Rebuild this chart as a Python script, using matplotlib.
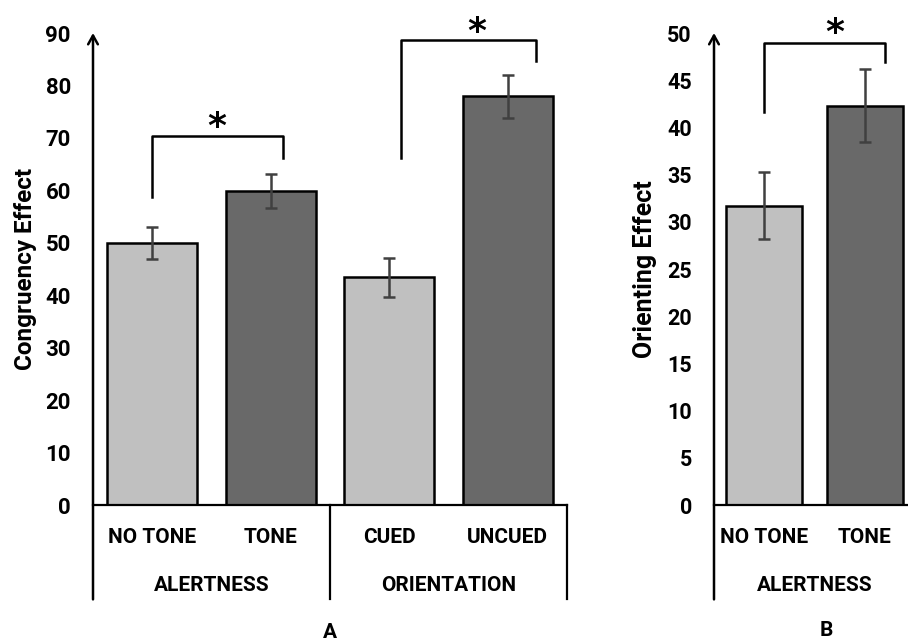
import matplotlib.pyplot as plt
from matplotlib.transforms import blended_transform_factory

# panel A data
a_labels = ["NO TONE", "TONE", "CUED", "UNCUED"]
a_groups = ["ALERTNESS", "ORIENTATION"]
a_means = [50.0, 59.8, 43.4, 77.9]
a_errors = [3.1, 3.25, 3.7, 4.1]
a_yticks = list(range(0, 91, 10))

# panel B data
b_labels = ["NO TONE", "TONE"]
b_group = "ALERTNESS"
b_means = [31.7, 42.3]
b_errors = [3.55, 3.85]
b_yticks = list(range(0, 51, 5))

# significance brackets: (x_left, x_right, y_left_end, y_top, y_right_end)
a_brackets = [(0.0, 1.1, 58.8, 70.4, 66.2), (2.1, 3.24, 66.2, 88.7, 84.7)]
a_stars = [(0.54, 72.0), (2.74, 90.2)]
b_brackets = [(0.0, 1.2, 41.6, 48.9, 46.9)]
b_stars = [(0.70, 50.0)]

LIGHT = "#c0c0c0"
DARK = "#696969"
W, H = 908, 642
CAL = ["Roboto", "DejaVu Sans"]

fig = plt.figure(figsize=(W / 100, H / 100), dpi=100)


def draw_panel(ax, labels, means, errors, yticks, ymax, xlim, tick_size, label_size):
    colors = [LIGHT, DARK] * (len(labels) // 2)
    x = list(range(len(labels)))
    ax.bar(x, means, width=0.76, color=colors, edgecolor="black", linewidth=1.8, zorder=2)
    ax.errorbar(x, means, yerr=errors, fmt="none", ecolor="#404040",
                elinewidth=1.8, capsize=4, capthick=1.8, zorder=3)
    ax.set_xlim(*xlim)
    ax.set_ylim(0, ymax)
    for s in ["top", "right", "left"]:
        ax.spines[s].set_visible(False)
    ax.spines["bottom"].set_linewidth(1.6)
    ax.set_xticks([])
    ax.set_yticks(yticks)
    ax.tick_params(axis="y", length=0, pad=16)
    for t in ax.get_yticklabels():
        t.set_fontfamily(CAL)
        t.set_fontweight("bold")
        t.set_fontsize(tick_size)
    # y axis with arrow head, continuing below the x axis
    ax.annotate("", xy=(0, 1.0), xytext=(0, -0.2), xycoords="axes fraction",
                arrowprops=dict(arrowstyle="->,head_length=0.45,head_width=0.25",
                                color="black", lw=1.8, mutation_scale=14,
                                shrinkA=0, shrinkB=0))
    trans = blended_transform_factory(ax.transData, ax.transAxes)
    for i, lab in enumerate(labels):
        ax.text(i, -0.068, lab, transform=trans, ha="center", va="center",
                fontsize=label_size, fontweight="bold", family=CAL)
    return trans


def draw_brackets(ax, brackets, stars):
    for xl, xr, yl, yt, yr in brackets:
        ax.plot([xl, xl, xr, xr], [yl, yt, yt, yr], color="black", lw=1.8,
                clip_on=False, zorder=4)
    for sx, sy in stars:
        ax.text(sx, sy, "*", ha="center", va="center", fontsize=26,
                fontweight="bold", family="DejaVu Sans", clip_on=False)


# ---- panel A
axA = fig.add_axes([93 / W, (H - 505) / H, (567 - 93) / W, (505 - 33) / H])
transA = draw_panel(axA, a_labels, a_means, a_errors, a_yticks, 90, (-0.5, 3.5), 16, 15)
for xs in [1.5, 3.5]:
    axA.plot([xs, xs], [0, -0.2], transform=transA, color="black", lw=1.6, clip_on=False)
for i, grp in enumerate(a_groups):
    axA.text(2 * i + 0.5, -0.17, grp, transform=transA, ha="center", va="center",
             fontsize=15, fontweight="bold", family=CAL)
axA.set_ylabel("Congruency Effect", fontsize=17.5, fontweight="bold", family=CAL, labelpad=6)
draw_brackets(axA, a_brackets, a_stars)
axA.text(0.5, -0.27, "A", transform=axA.transAxes, ha="center", va="center",
         fontsize=15, fontweight="bold", family=CAL)

# ---- panel B
axB = fig.add_axes([714 / W, (H - 505) / H, (915 - 714) / W, (505 - 33) / H])
transB = draw_panel(axB, b_labels, b_means, b_errors, b_yticks, 50, (-0.5, 1.5), 15.5, 15)
axB.text(0.5, -0.17, b_group, transform=transB, ha="center", va="center",
         fontsize=15, fontweight="bold", family=CAL)
axB.set_ylabel("Orienting Effect", fontsize=18, fontweight="bold", family=CAL, labelpad=7)
draw_brackets(axB, b_brackets, b_stars)
axB.text(0.56, -0.265, "B", transform=axB.transAxes, ha="center", va="center",
         fontsize=15, fontweight="bold", family=CAL)

fig.savefig("out.png", dpi=100)
